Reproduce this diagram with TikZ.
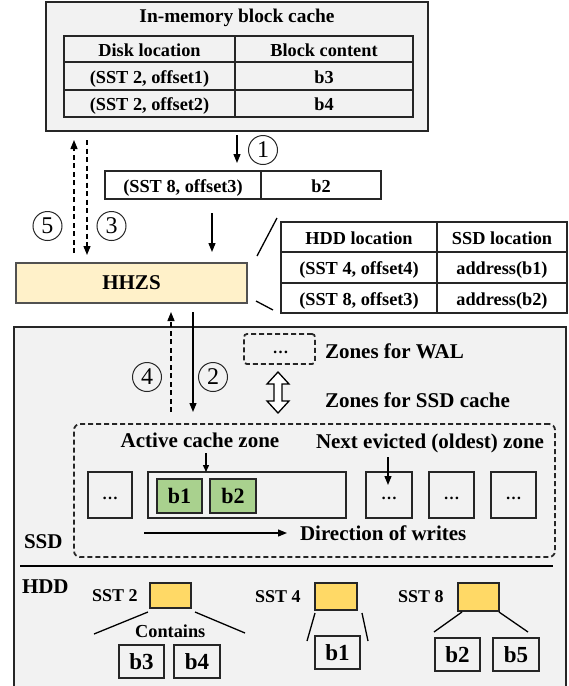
\documentclass[tikz,border=0pt]{standalone}
\usepackage{fontspec}
\setmainfont{Liberation Serif}
\usetikzlibrary{arrows.meta,calc}
\definecolor{boxgray}{HTML}{F2F2F2}
\definecolor{hhzsfill}{HTML}{FFF1C9}
\definecolor{sstfill}{HTML}{FFD966}
\definecolor{greenfill}{HTML}{A9D18E}
\definecolor{edge}{HTML}{262626}
\newcommand\setfs[1]{\fontsize{#1}{#1}\selectfont}
\begin{document}
\begin{tikzpicture}[x=1pt,y=-1pt,
  graybox/.style={draw=edge, line width=1.3pt, fill=boxgray, inner sep=0pt, outer sep=0pt, anchor=north west},
  cell/.style={draw=edge, line width=1.3pt, inner sep=0pt, outer sep=0pt, anchor=north west,
    text height=14pt, text depth=0pt, font=\setfs{18.3}\bfseries},
  lbl/.style={inner sep=0pt, outer sep=0pt, anchor=base west, font=\setfs{21}\bfseries},
  circ/.style={circle, draw=edge, line width=1pt, minimum size=29pt, inner sep=0pt, font=\setfs{24}},
  arr/.style={line width=1.3pt, -{Triangle[length=9pt,width=7pt]}},
  darr/.style={line width=1.3pt, dash pattern=on 5pt off 3.5pt, -{Triangle[length=9pt,width=7pt]}},
  zonebox/.style={draw=edge, line width=1.3pt, inner sep=0pt, outer sep=0pt, anchor=north west},
  dashbox/.style={draw=edge, line width=1.8pt, dash pattern=on 5pt off 3pt, inner sep=0pt, outer sep=0pt, anchor=north west},
  dots/.style={inner sep=0pt, font=\setfs{16}\bfseries},
  greenbox/.style={draw=edge, line width=2pt, fill=greenfill, inner sep=0pt, outer sep=0pt, anchor=north west,
    minimum width=45pt, minimum height=34pt, font=\setfs{22}\bfseries},
  bbox/.style={draw=edge, line width=2.2pt, inner sep=0pt, outer sep=0pt, anchor=north west,
    minimum width=45pt, minimum height=33pt, font=\setfs{23}\bfseries},
  sstbox/.style={draw=edge, line width=1.3pt, fill=sstfill, inner sep=0pt, outer sep=0pt, anchor=north west},
  sstlbl/.style={inner sep=0pt, outer sep=0pt, anchor=base west, font=\setfs{18}\bfseries},
  thinline/.style={line width=1.3pt}
]
\useasboundingbox (0,0) rectangle (569,686);

% ---------- in-memory block cache ----------
\node[graybox, minimum width=382pt, minimum height=129pt] (mem) at (46,2) {};
\node[inner sep=0pt, anchor=base, font=\setfs{19.4}\bfseries] (memtitle) at (237,22) {In-memory block cache};
\node[cell, minimum width=171pt, minimum height=26pt] (m11) at (64,36) {Disk location};
\node[cell, minimum width=178pt, minimum height=26pt] (m12) at (235,36) {Block content};
\node[cell, minimum width=171pt, minimum height=28pt] (m21) at (64,62) {(SST 2, offset1)};
\node[cell, minimum width=178pt, minimum height=28pt] (m22) at (235,62) {b3};
\node[cell, minimum width=171pt, minimum height=27pt] (m31) at (64,90) {(SST 2, offset2)};
\node[cell, minimum width=178pt, minimum height=27pt] (m32) at (235,90) {b4};

% ---------- block being inserted ----------
\node[cell, fill=white, minimum width=156pt, minimum height=28pt] (blk1) at (105,171) {(SST 8, offset3)};
\node[cell, fill=white, minimum width=120pt, minimum height=28pt] (blk2) at (261,171) {b2};

% ---------- HHZS ----------
\node[draw=edge!80, line width=1.3pt, fill=hhzsfill, inner sep=0pt, outer sep=0pt, anchor=north west,
  minimum width=231pt, minimum height=40pt, font=\setfs{21}\bfseries] (hhzs) at (16,263) {HHZS};

% ---------- mapping table ----------
\node[cell, fill=white, minimum width=156pt, minimum height=30pt] (t11) at (281,222) {HDD location};
\node[cell, fill=white, minimum width=130pt, minimum height=30pt] (t12) at (437,222) {SSD location};
\node[cell, fill=white, minimum width=156pt, minimum height=31pt] (t21) at (281,252) {(SST 4, offset4)};
\node[cell, fill=white, minimum width=130pt, minimum height=31pt] (t22) at (437,252) {address(b1)};
\node[cell, fill=white, minimum width=156pt, minimum height=30pt] (t31) at (281,283) {(SST 8, offset3)};
\node[cell, fill=white, minimum width=130pt, minimum height=30pt] (t32) at (437,283) {address(b2)};
\draw[thinline] (257,256) -- (277,218);
\draw[thinline] (256,301) -- (273,310);

% ---------- SSD / HDD box ----------
\node[graybox, minimum width=552pt, minimum height=380pt] (dev) at (14,327) {};

% ---------- circled numbers ----------
\node[circ] (c1) at (263,150) {1};
\node[circ] (c5) at (47.5,226) {5};
\node[circ] (c3) at (111.5,226) {3};
\node[circ] (c4) at (147,377) {4};
\node[circ] (c2) at (213,377) {2};

% ---------- arrows upper part ----------
\coordinate (a1s) at (237,135); \coordinate (a1e) at (237,163);
\draw[arr] (a1s) -- (a1e);
\coordinate (a5s) at (74,253); \coordinate (a5e) at (74,140);
\draw[darr] (a5s) -- (a5e);
\coordinate (a3s) at (87,140); \coordinate (a3e) at (87,255);
\draw[darr] (a3s) -- (a3e);
\coordinate (abs) at (212,213); \coordinate (abe) at (212,252);
\draw[arr] (abs) -- (abe);
\coordinate (a2s) at (193,312); \coordinate (a2e) at (193,412);
\draw[arr] (a2s) -- (a2e);
\coordinate (a4s) at (171,412); \coordinate (a4e) at (171,312);
\draw[darr] (a4s) -- (a4e);

% ---------- zones for WAL ----------
\node[dashbox, rounded corners=3pt, minimum width=71pt, minimum height=30pt] (wal) at (244,334) {};
\node[dots] (waldots) at (280.5,352) {…};
\node[lbl] (wallbl) at (325,358) {Zones for WAL};
\draw[line width=1.3pt, fill=white, line join=miter]
  (278,372) -- (289,384) -- (282,384) -- (282,401) -- (289,401) -- (278,413)
  -- (267,401) -- (274,401) -- (274,384) -- (267,384) -- cycle;
\node[lbl] (ssdclbl) at (325,407) {Zones for SSD cache};

% ---------- SSD cache zones ----------
\node[dashbox, rounded corners=6pt, minimum width=481pt, minimum height=133pt] (cachearea) at (74,424) {};
\node[inner sep=0pt, anchor=base, font=\setfs{21}\bfseries] (activelbl) at (200,447) {Active cache zone};
\node[inner sep=0pt, anchor=base, font=\setfs{21}\bfseries] (nextlbl) at (430,448) {Next evicted (oldest) zone};

\node[zonebox, minimum width=44pt, minimum height=46pt] (z0) at (88,472) {};
\node[dots] at (110,498) {…};
\node[zonebox, minimum width=198pt, minimum height=46pt] (zact) at (148,472) {};
\node[greenbox] (g1) at (157,479) {b1};
\node[greenbox, minimum width=46pt] (g2) at (210,479) {b2};
\node[zonebox, minimum width=46pt, minimum height=46pt] (z1) at (366,472) {};
\node[dots] at (389,498) {…};
\node[zonebox, minimum width=45pt, minimum height=46pt] (z2) at (429,472) {};
\node[dots] at (451.5,498) {…};
\node[zonebox, minimum width=45pt, minimum height=46pt] (z3) at (491,472) {};
\node[dots] at (513.5,498) {…};

\coordinate (aas) at (206,453);
\draw[arr, -{Triangle[length=7pt,width=6pt]}] (aas) -- (zact.north -| aas);
\coordinate (ans) at (388,457); \coordinate (ane) at (388,485);
\draw[arr] (ans) -- (ane);

\coordinate (dws) at (144,533); \coordinate (dwe) at (287,533);
\draw[arr] (dws) -- (dwe);
\node[lbl] (dirlbl) at (300,540) {Direction of writes};
\node[lbl] (ssdlbl) at (24,548) {SSD};

% ---------- separator ----------
\coordinate (seps) at (20,566); \coordinate (sepe) at (553,566);
\draw[line width=2pt] (seps) -- (sepe);

% ---------- HDD ----------
\node[lbl] (hddlbl) at (22,593) {HDD};

\node[sstlbl] (sst2lbl) at (92,601) {SST 2};
\node[sstbox, minimum width=41pt, minimum height=25pt] (sst2) at (150,583) {};
\node[inner sep=0pt, anchor=base west, font=\setfs{18.3}\bfseries] (contains) at (135,637) {Contains};
\node[bbox] (b3) at (119,645) {b3};
\node[bbox, minimum width=46pt] (b4) at (174,645) {b4};
\draw[thinline] (148,612) -- (94,634);
\draw[thinline] (195,612) -- (245,633);

\node[sstlbl] (sst4lbl) at (255,602) {SST 4};
\node[sstbox, minimum width=42pt, minimum height=27pt] (sst4) at (315,583) {};
\node[bbox] (b1) at (315,636) {b1};
\draw[thinline] (315,613) -- (307,641);
\draw[thinline] (362,613) -- (368,641);

\node[sstlbl] (sst8lbl) at (398,602) {SST 8};
\node[sstbox, minimum width=41pt, minimum height=28pt] (sst8) at (458,583) {};
\node[bbox] (b2h) at (435,638) {b2};
\node[bbox, minimum width=46pt] (b5) at (493,638) {b5};
\draw[thinline] (462,612) -- (434,632);
\draw[thinline] (499,612) -- (528,632);
\end{tikzpicture}
\end{document}
